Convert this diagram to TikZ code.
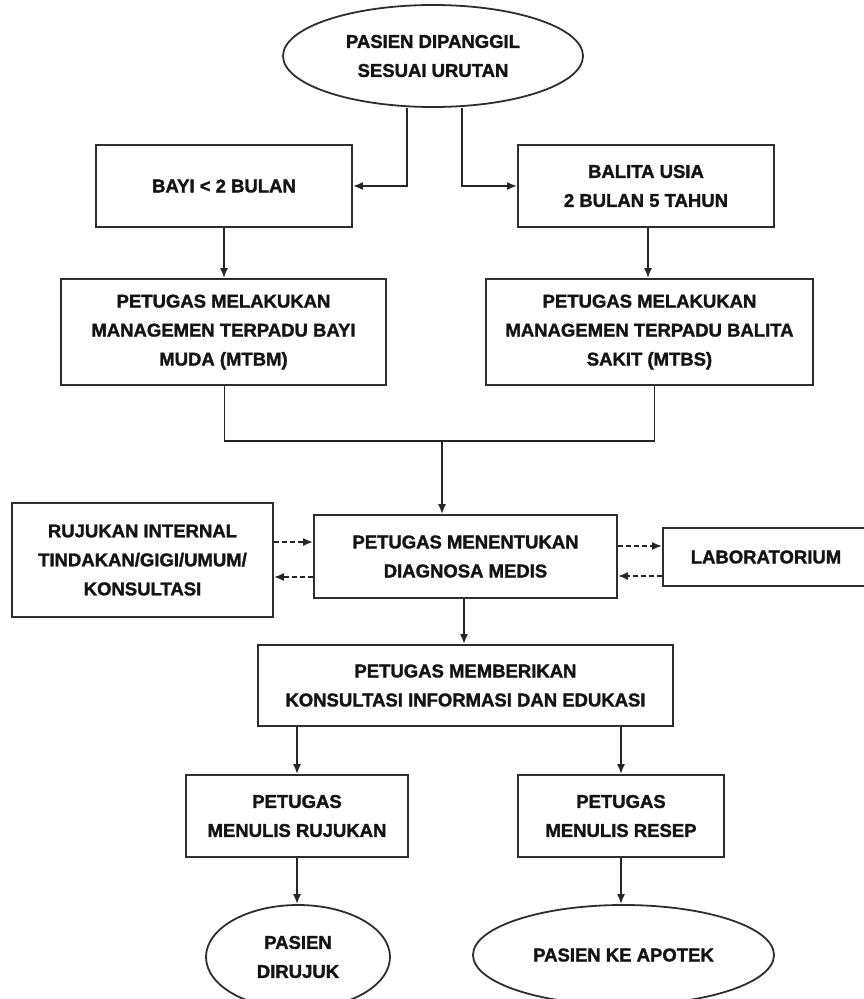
\documentclass[tikz,border=0pt]{standalone}
\usepackage{fontspec}
\setmainfont{Liberation Sans}[BoldFeatures={FakeBold=1.6}]
\usetikzlibrary{shapes.geometric,arrows.meta}
\begin{document}
\begin{tikzpicture}[x=1pt,y=-1pt,
  lbl/.style={font=\fontsize{18.5}{29}\selectfont\bfseries, align=center, text=black!92},
  box/.style={lbl, draw=black!82, line width=1.8pt, rectangle, inner sep=0pt, anchor=center},
  oval/.style={lbl, draw=black!82, line width=1.8pt, ellipse, inner sep=0pt},
  arr/.style={draw=black!85, line width=1.8pt, -{Latex[length=10pt,width=8pt]}},
  darr/.style={arr, dash pattern=on 5pt off 3pt}]
\useasboundingbox (0,0) rectangle (864,999);
\clip (0,0) rectangle (864,999);
\fill[white] (0,0) rectangle (864,999);

\node[oval, minimum width=300pt, minimum height=102pt] (e1) at (433,56) {PASIEN DIPANGGIL\\SESUAI URUTAN};
\node[box, minimum width=256pt, minimum height=82pt] (bayi) at (224,186) {BAYI < 2 BULAN};
\node[box, minimum width=256pt, minimum height=82pt] (balita) at (646,186) {BALITA USIA\\2 BULAN 5 TAHUN};
\node[box, minimum width=325pt, minimum height=106pt] (mtbm) at (223.5,332) {PETUGAS MELAKUKAN\\MANAGEMEN TERPADU BAYI\\MUDA (MTBM)};
\node[box, minimum width=327pt, minimum height=106pt] (mtbs) at (649.5,332) {PETUGAS MELAKUKAN\\MANAGEMEN TERPADU BALITA\\SAKIT (MTBS)};
\node[box, minimum width=261pt, minimum height=114pt] (ruj) at (142.5,560) {RUJUKAN INTERNAL\\TINDAKAN/GIGI/UMUM/\\KONSULTASI};
\node[box, minimum width=303pt, minimum height=83pt] (diag) at (465.5,556.5) {PETUGAS MENENTUKAN\\DIAGNOSA MEDIS};
\node[box, minimum width=206pt, minimum height=58pt] (lab) at (766,557) {LABORATORIUM};
\node[box, minimum width=415pt, minimum height=81pt] (kie) at (465.5,685.5) {PETUGAS MEMBERIKAN\\KONSULTASI INFORMASI DAN EDUKASI};
\node[box, minimum width=222pt, minimum height=82pt] (tulis) at (297,816) {PETUGAS\\MENULIS RUJUKAN};
\node[box, minimum width=206pt, minimum height=82pt] (resep) at (621,816) {PETUGAS\\MENULIS RESEP};
\node[oval, minimum width=184pt, minimum height=104pt] (e2) at (298,957) {PASIEN\\DIRUJUK};
\node[oval, minimum width=301pt, minimum height=100pt] (e3) at (623.5,955) {PASIEN KE APOTEK};

% top split
\draw[arr] ([xshift=-26pt]e1.south) |- (bayi.east);
\draw[arr] ([xshift=29pt]e1.south) |- (balita.west);
\draw[arr] (bayi.south) -- (bayi.south |- mtbm.north);
\draw[arr] ([xshift=2pt]balita.south) -- ([xshift=2pt]balita.south |- mtbs.north);

% merge
\coordinate (m) at (442,441);
\coordinate (ms) at ([xshift=5pt]mtbs.south);
\draw[draw=black!85, line width=1.8pt] ([xshift=1pt]mtbm.south) |- (m) -| (ms);
\draw[arr] (m) -- (m |- diag.north);

% dashed links
\coordinate (r1) at ([yshift=18pt]ruj.east);
\coordinate (r2) at ([yshift=-17pt]ruj.east);
\coordinate (d1) at ([yshift=10.5pt]diag.east);
\coordinate (d2) at ([yshift=-19.5pt]diag.east);
\draw[darr] (r1) -- (r1 -| diag.west);
\draw[darr] (r2 -| diag.west) -- (r2);
\draw[darr] (d1) -- (d1 -| lab.west);
\draw[darr] (d2 -| lab.west) -- (d2);

% down
\draw[arr] ([xshift=-1.5pt]diag.south) -- ([xshift=-1.5pt]diag.south |- kie.north);
\draw[arr] (tulis.north |- kie.south) -- (tulis.north);
\draw[arr] (resep.north |- kie.south) -- (resep.north);
\draw[arr] (tulis.south) -- (tulis.south |- e2.north);
\draw[arr] (resep.south) -- (resep.south |- e3.north);
\end{tikzpicture}
\end{document}
